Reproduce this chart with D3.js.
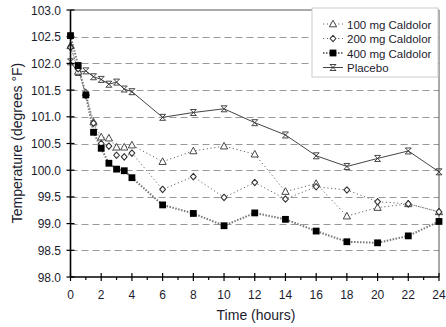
<!DOCTYPE html>
<html>
<head>
<meta charset="utf-8">
<script src="https://cdn.jsdelivr.net/npm/d3@7"></script>
<style>
  body { margin: 0; background: #fff; }
  text { font-family: "Liberation Sans", Arial, sans-serif; fill: #1c1c2e; }
</style>
</head>
<body>
<script>
const times = [0, 0.5, 1, 1.5, 2, 2.5, 3, 3.5, 4, 6, 8, 10, 12, 14, 16, 18, 20, 22, 24];
const mg100 = [102.33, 101.85, 101.45, 100.90, 100.62, 100.60, 100.43, 100.43, 100.47, 100.16, 100.36, 100.45, 100.30, 99.60, 99.75, 99.14, 99.30, 99.37, 99.22];
const mg200 = [102.30, 101.90, 101.40, 100.88, 100.50, 100.45, 100.28, 100.25, 100.32, 99.64, 99.88, 99.49, 99.77, 99.46, 99.69, 99.63, 99.41, 99.37, 99.22];
const mg400 = [102.52, 101.96, 101.41, 100.71, 100.41, 100.13, 100.02, 99.99, 99.86, 99.35, 99.19, 98.96, 99.20, 99.08, 98.86, 98.66, 98.64, 98.77, 99.04];
const placebo = [102.03, 101.83, 101.86, 101.75, 101.70, 101.61, 101.65, 101.52, 101.47, 100.99, 101.08, 101.15, 100.89, 100.66, 100.27, 100.07, 100.22, 100.36, 99.97];
const yTicks = [98.0, 98.5, 99.0, 99.5, 100.0, 100.5, 101.0, 101.5, 102.0, 102.5, 103.0];
const xTicks = [0, 2, 4, 6, 8, 10, 12, 14, 16, 18, 20, 22, 24];
const seriesNames = ["100 mg Caldolor", "200 mg Caldolor", "400 mg Caldolor", "Placebo"];

const W = 446, H = 327;
const svg = d3.select("body").append("svg").attr("width", W).attr("height", H);

const x = d3.scaleLinear().domain([0, 24]).range([70.5, 439]);
const y = d3.scaleLinear().domain([98, 103]).range([277, 10]);

// grid
svg.append("g").selectAll("line")
    .data(yTicks.slice(1, -1))
    .enter().append("line")
    .attr("x1", x(0)).attr("x2", x(24))
    .attr("y1", d => Math.round(y(d)) + 0.5).attr("y2", d => Math.round(y(d)) + 0.5)
    .attr("stroke", "#999").attr("stroke-dasharray", "7,4");

// frame top/right
svg.append("path")
    .attr("d", `M${x(0)},${y(103)}H${x(24)}V${y(98)}`)
    .attr("fill", "none").attr("stroke", "#555").attr("stroke-width", 1);

const series = [
  { name: seriesNames[0], vals: mg100, shape: "tri", dash: "1.2,2.6", color: "#666", width: 1 },
  { name: seriesNames[1], vals: mg200, shape: "circ", dash: "1.2,2.6", color: "#666", width: 1 },
  { name: seriesNames[2], vals: mg400, shape: "sq", dash: "1.5,1.5", color: "#777", width: 2 },
  { name: seriesNames[3], vals: placebo, shape: "x", dash: null, color: "#444", width: 1 }
];

const line = d3.line().x(d => x(d[0])).y(d => y(d[1]));

function marker(g, shape) {
  if (shape === "tri") {
    g.append("path").attr("d", "M0,-3.8L3.6,2.8L-3.6,2.8Z")
      .attr("fill", "#fff").attr("stroke", "#333").attr("stroke-width", 0.9);
  } else if (shape === "circ") {
    g.append("path").attr("d", "M0,-3.2L2.9,0L0,3.2L-2.9,0Z")
      .attr("fill", "#fff").attr("stroke", "#333").attr("stroke-width", 1.1)
      .attr("stroke-linejoin", "round");
  } else if (shape === "sq") {
    g.append("rect").attr("x", -3.4).attr("y", -3.4).attr("width", 6.8).attr("height", 6.8)
      .attr("fill", "#000");
  } else {
    g.append("path").attr("d", "M-3,-3L3,3M-3,3L3,-3M-3,-3H3M-3,3H3")
      .attr("stroke", "#333").attr("stroke-width", 0.9);
  }
}

const plot = svg.append("g");
series.forEach(s => {
  const pts = times.map((t, i) => [t, s.vals[i]]);
  plot.append("path").datum(pts).attr("d", line)
    .attr("fill", "none").attr("stroke", s.color).attr("stroke-width", s.width)
    .attr("stroke-dasharray", s.dash);
  s.pts = pts;
});
// draw markers, placebo first so squares sit on top
[3, 0, 1, 2].forEach(k => {
  const s = series[k];
  plot.append("g").selectAll("g").data(s.pts).enter().append("g")
    .attr("transform", d => `translate(${x(d[0])},${y(d[1])})`)
    .each(function () { marker(d3.select(this), s.shape); });
});

// axes
const xAxis = svg.append("g");
xAxis.append("line").attr("x1", x(0)).attr("x2", x(24)).attr("y1", y(98)).attr("y2", y(98))
  .attr("stroke", "#000").attr("stroke-width", 1.6);
xAxis.selectAll(".maj").data(xTicks).enter().append("line")
  .attr("x1", d => x(d)).attr("x2", d => x(d)).attr("y1", y(98) - 4).attr("y2", y(98) + 4)
  .attr("stroke", "#000").attr("stroke-width", 1.2);
xAxis.selectAll(".min").data(d3.range(1, 24, 2)).enter().append("line")
  .attr("x1", d => x(d)).attr("x2", d => x(d)).attr("y1", y(98)).attr("y2", y(98) + 3)
  .attr("stroke", "#000").attr("stroke-width", 1.2);
xAxis.selectAll("text").data(xTicks).enter().append("text")
  .attr("x", d => x(d)).attr("y", 299).attr("text-anchor", "middle")
  .attr("font-size", 12).text(d => d);

const yAxis = svg.append("g");
yAxis.append("line").attr("x1", x(0)).attr("x2", x(0)).attr("y1", y(103)).attr("y2", y(98))
  .attr("stroke", "#000").attr("stroke-width", 1.6);
yAxis.selectAll("line.t").data(yTicks).enter().append("line")
  .attr("x1", x(0) - 4).attr("x2", x(0) + 4).attr("y1", d => y(d)).attr("y2", d => y(d))
  .attr("stroke", "#000").attr("stroke-width", 1.2);
yAxis.selectAll("text").data(yTicks).enter().append("text")
  .attr("x", 61).attr("y", d => y(d) + 4.5).attr("text-anchor", "end")
  .attr("font-size", 12).text(d => d.toFixed(1));

svg.append("text").attr("x", 256).attr("y", 320).attr("text-anchor", "middle")
  .attr("font-size", 14).text("Time (hours)");
svg.append("text").attr("transform", "translate(22,143) rotate(-90)")
  .attr("text-anchor", "middle").attr("font-size", 14).text("Temperature (degrees °F)");

// legend
const lg = svg.append("g");
lg.append("rect").attr("x", 312).attr("y", 8).attr("width", 126).attr("height", 69)
  .attr("fill", "#fff").attr("stroke", "#ccc");
series.forEach((s, i) => {
  const ly = 24 + i * 14.5;
  lg.append("line").attr("x1", 323).attr("x2", 343).attr("y1", ly).attr("y2", ly)
    .attr("stroke", s.color).attr("stroke-width", s.width).attr("stroke-dasharray", s.dash);
  const m = lg.append("g").attr("transform", `translate(333,${ly})`);
  marker(m, s.shape);
  lg.append("text").attr("x", 347).attr("y", ly + 4.5).attr("font-size", 11.5).text(s.name);
});
</script>
</body>
</html>
